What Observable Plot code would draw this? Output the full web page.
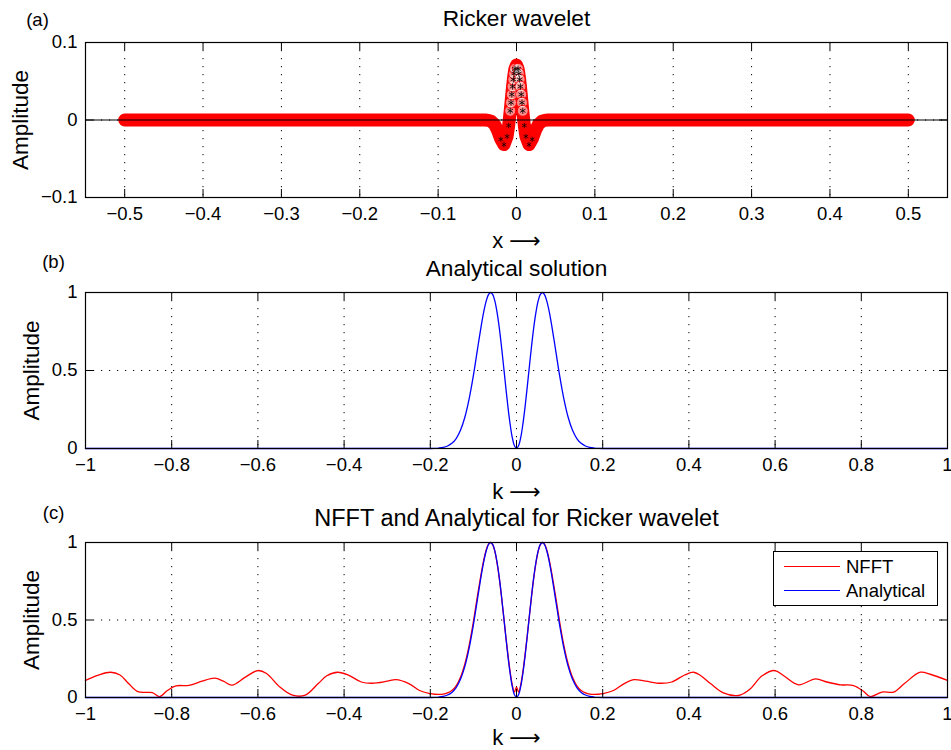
<!DOCTYPE html>
<html>
<head>
<meta charset="utf-8">
<script src="https://cdn.jsdelivr.net/npm/d3@7"></script>
<script src="https://cdn.jsdelivr.net/npm/@observablehq/plot@0.6"></script>
<style>
  body { margin: 0; background: #fff; }
  #wrap { position: relative; width: 951px; height: 750px; background: #fff; font-family: 'Liberation Sans', Arial, Helvetica, sans-serif; }
  #wrap > svg { position: absolute; left: 0; }
  #legend { position: absolute; left: 773px; top: 551px; width: 163px; height: 53px; border: 1px solid #000; background: #fff; }
  .lrow { position: absolute; left: 0; height: 22px; width: 160px; }
  .lline { position: absolute; left: 10px; width: 56px; top: 10px; height: 0; border-top: 1.3px solid; }
  .ltext { position: absolute; left: 72px; top: 0; font-size: 18.5px; line-height: 22px; color: #000; }
</style>
</head>
<body>
<div id="wrap">
  <div id="legend">
    <div class="lrow" style="top:4px"><div class="lline" style="border-color:#ff0000"></div><div class="ltext">NFFT</div></div>
    <div class="lrow" style="top:28px"><div class="lline" style="border-color:#0000ff"></div><div class="ltext">Analytical</div></div>
  </div>
</div>
<script>
// ---------- Data ----------
// (a) Ricker wavelet samples
const waveX = [-0.5, -0.4, -0.3, -0.2, -0.1, -0.05, -0.04, -0.036, -0.032, -0.028, -0.024, -0.02, -0.016, -0.012, -0.01, -0.008, -0.007, -0.006, -0.005, -0.004, -0.003, -0.002, 0,
               0.002, 0.003, 0.004, 0.005, 0.006, 0.007, 0.008, 0.01, 0.012, 0.016, 0.02, 0.024, 0.028, 0.032, 0.036, 0.04, 0.05, 0.1, 0.2, 0.3, 0.4, 0.5];
const waveY = [0, 0, 0, 0, 0, 0, 0, -0.0005, -0.0019, -0.0057, -0.0138, -0.0249, -0.0317, -0.0212, -0.0071, 0.0119, 0.0224, 0.033, 0.0432, 0.0524, 0.060, 0.066, 0.071,
               0.066, 0.060, 0.0524, 0.0432, 0.033, 0.0224, 0.0119, -0.0071, -0.0212, -0.0317, -0.0249, -0.0138, -0.0057, -0.0019, -0.0005, 0, 0, 0, 0, 0, 0, 0];
const waveTicksX = [-0.5, -0.4, -0.3, -0.2, -0.1, 0, 0.1, 0.2, 0.3, 0.4, 0.5];
const waveTicksY = [-0.1, 0, 0.1];

// (b)/(c) analytical spectrum
const anaK = [-1, -0.3, -0.2, -0.19, -0.18, -0.17, -0.16, -0.15, -0.14, -0.13, -0.12, -0.11, -0.1, -0.09, -0.08, -0.075, -0.07, -0.065, -0.06, -0.055, -0.05, -0.045, -0.04, -0.035, -0.03, -0.025, -0.02, -0.015, -0.01, -0.005, 0,
              0.005, 0.01, 0.015, 0.02, 0.025, 0.03, 0.035, 0.04, 0.045, 0.05, 0.055, 0.06, 0.065, 0.07, 0.075, 0.08, 0.09, 0.1, 0.11, 0.12, 0.13, 0.14, 0.15, 0.16, 0.17, 0.18, 0.19, 0.2, 0.3, 1];
const anaA = [0, 0, 0, 0.001, 0.003, 0.007, 0.016, 0.033, 0.064, 0.117, 0.199, 0.317, 0.469, 0.645, 0.817, 0.890, 0.948, 0.987, 1.0, 0.986, 0.943, 0.871, 0.775, 0.658, 0.529, 0.397, 0.27, 0.16, 0.073, 0.019, 0,
              0.019, 0.073, 0.16, 0.27, 0.397, 0.529, 0.658, 0.775, 0.871, 0.943, 0.986, 1.0, 0.987, 0.948, 0.890, 0.817, 0.645, 0.469, 0.317, 0.199, 0.117, 0.064, 0.033, 0.016, 0.007, 0.003, 0.001, 0, 0, 0];

// (c) NFFT result
const nfftK = [-1.0, -0.97, -0.942, -0.92, -0.9, -0.88, -0.86, -0.845, -0.828, -0.81, -0.79, -0.76, -0.73, -0.7, -0.68, -0.66, -0.63, -0.6, -0.58, -0.55, -0.52, -0.49, -0.46, -0.44, -0.415, -0.39, -0.36, -0.335, -0.3, -0.28, -0.25, -0.225,
               -0.2, -0.19, -0.18, -0.17, -0.16, -0.15, -0.14, -0.13, -0.12, -0.11, -0.1, -0.09, -0.08, -0.075, -0.07, -0.065, -0.06, -0.055, -0.05, -0.045, -0.04, -0.035, -0.03, -0.025, -0.02, -0.015, -0.01, -0.005, 0,
               0.005, 0.01, 0.015, 0.02, 0.025, 0.03, 0.035, 0.04, 0.045, 0.05, 0.055, 0.06, 0.065, 0.07, 0.075, 0.08, 0.09, 0.1, 0.11, 0.12, 0.13, 0.14, 0.15, 0.16, 0.17, 0.18, 0.19, 0.2,
               0.225, 0.25, 0.272, 0.3, 0.334, 0.36, 0.39, 0.411, 0.427, 0.45, 0.48, 0.515, 0.54, 0.57, 0.599, 0.62, 0.654, 0.694, 0.72, 0.752, 0.782, 0.805, 0.821, 0.848, 0.875, 0.9, 0.937, 0.96, 1.0];
const nfftA = [0.11, 0.145, 0.163, 0.145, 0.09, 0.04, 0.033, 0.032, 0.006, 0.045, 0.075, 0.078, 0.105, 0.125, 0.105, 0.08, 0.13, 0.174, 0.155, 0.07, 0.015, 0.015, 0.09, 0.14, 0.163, 0.145, 0.1, 0.092, 0.105, 0.115, 0.09, 0.045,
               0.025, 0.021, 0.02, 0.022, 0.03, 0.045, 0.075, 0.13, 0.215, 0.335, 0.49, 0.665, 0.83, 0.9, 0.955, 0.99, 1.0, 0.985, 0.94, 0.865, 0.77, 0.655, 0.53, 0.4, 0.28, 0.17, 0.085, 0.035, 0.066,
               0.035, 0.085, 0.17, 0.28, 0.4, 0.53, 0.655, 0.77, 0.865, 0.94, 0.985, 1.0, 0.99, 0.955, 0.9, 0.83, 0.665, 0.49, 0.335, 0.215, 0.13, 0.075, 0.045, 0.03, 0.022, 0.02, 0.021, 0.025,
               0.045, 0.09, 0.115, 0.105, 0.092, 0.1, 0.145, 0.163, 0.142, 0.09, 0.03, 0.013, 0.05, 0.14, 0.174, 0.14, 0.082, 0.12, 0.1, 0.082, 0.077, 0.04, 0.006, 0.035, 0.035, 0.09, 0.163, 0.15, 0.11];

const kTicksX = [-1, -0.8, -0.6, -0.4, -0.2, 0, 0.2, 0.4, 0.6, 0.8, 1];
const kTicksY = [0, 0.5, 1];

const titles = ["Ricker wavelet", "Analytical solution", "NFFT and Analytical for Ricker wavelet"];
const tags = ["(a)", "(b)", "(c)"];
const xLabels = ["x \u27F6", "k \u27F6", "k \u27F6"];
const yLabel = "Amplitude";
const legendNames = ["NFFT", "Analytical"];

// ---------- Build ----------
const wave = waveX.map((x, i) => ({x, y: waveY[i]}));
const ana = anaK.map((k, i) => ({k, a: anaA[i]}));
const nfft = nfftK.map((k, i) => ({k, a: nfftA[i]}));
const center = wave.filter(d => Math.abs(d.x) <= 0.008 && d.x !== 0);
const lobes = wave.filter(d => Math.abs(d.x) <= 0.02 && Math.abs(d.x) >= 0.01);

const FONT = "'Liberation Sans', Arial, Helvetica, 'DejaVu Sans', sans-serif";
const W = 951, H = 250, ML = 85, MR = 4, MT = 42;
const fmt = d => d === 0 ? "0" : (d < 0 ? "\u2212" : "") + String(+Math.abs(d).toFixed(1));

function panel({xDomain, yDomain, xt, yt, yGrid, data, tagDx, tagDy, ylDx, title, titleSize, tag, xlab, xlDy, mb}) {
  const ph = H - MT - mb, pw = W - ML - MR;
  return Plot.plot({
    width: W, height: H,
    marginLeft: ML, marginRight: MR, marginTop: MT, marginBottom: mb,
    x: {domain: xDomain, axis: null},
    y: {domain: yDomain, axis: null},
    style: {fontFamily: FONT, fontSize: "18.5px", background: "white", overflow: "visible", color: "black"},
    marks: [
      Plot.ruleX(xt, {x: d => d, stroke: "#000", strokeWidth: 1, strokeDasharray: "1.2,6.8"}),
      Plot.ruleY(yGrid, {y: d => d, stroke: "#000", strokeWidth: 1, strokeDasharray: "1.2,6.8"}),
      ...data,
      Plot.frame({stroke: "#000", strokeWidth: 1.2}),
      Plot.tickX(xt, {x: d => d, insetTop: ph - 8, stroke: "#000"}),
      Plot.tickX(xt, {x: d => d, insetBottom: ph - 8, stroke: "#000"}),
      Plot.tickY(yt, {y: d => d, insetRight: pw - 8, stroke: "#000"}),
      Plot.tickY(yt, {y: d => d, insetLeft: pw - 8, stroke: "#000"}),
      Plot.text(xt, {x: d => d, text: fmt, frameAnchor: "bottom", dy: 17, lineAnchor: "middle", textAnchor: "middle", fontSize: 18.5, fill: "#000"}),
      Plot.text(yt, {y: d => d, text: fmt, frameAnchor: "left", dx: -8, lineAnchor: "middle", textAnchor: "end", fontSize: 18.5, fill: "#000"}),
      Plot.text([title], {text: d => d, frameAnchor: "top", dy: -24, lineAnchor: "middle", textAnchor: "middle", fontSize: titleSize, fill: "#000"}),
      Plot.text([tag], {text: d => d, frameAnchor: "top-left", dx: tagDx, dy: tagDy, lineAnchor: "middle", textAnchor: "middle", fontSize: 18.5, fill: "#000"}),
      Plot.text([yLabel], {text: d => d, frameAnchor: "left", dx: ylDx, rotate: -90, lineAnchor: "middle", textAnchor: "middle", fontSize: 22.5, fill: "#000"}),
      Plot.text([xlab], {text: d => d, frameAnchor: "bottom", dy: xlDy, lineAnchor: "middle", textAnchor: "middle", fontSize: 22, fill: "#000"})
    ]
  });
}

const pa = panel({
  xDomain: [-0.55, 0.55], yDomain: [-0.1, 0.1], xt: waveTicksX, yt: waveTicksY, yGrid: [0],
  tagDx: -48, tagDy: -22, ylDx: -65, title: titles[0], titleSize: 22.7, tag: tags[0], xlab: xLabels[0], xlDy: 43, mb: 53,
  data: [
    Plot.line(wave, {x: "x", y: "y", stroke: "#ff0000", strokeWidth: 13}),
    Plot.dot(center, {x: "x", y: "y", r: 5.5, stroke: "#ff0000", fill: "#ffffff", fillOpacity: 0.55, strokeWidth: 1}),
    Plot.dot(center, {x: "x", y: "y", r: 3, symbol: "asterisk", stroke: "#000", strokeWidth: 0.8}),
    Plot.dot(lobes, {x: "x", y: "y", r: 2.5, symbol: "asterisk", stroke: "#000", strokeWidth: 0.7}),
    Plot.ruleY([0], {stroke: "#000", strokeWidth: 1.2})
  ]
});
const pb = panel({
  xDomain: [-1, 1], yDomain: [0, 1], xt: kTicksX, yt: kTicksY, yGrid: [0.5],
  tagDx: -32, tagDy: -30, ylDx: -54, title: titles[1], titleSize: 22.7, tag: tags[1], xlab: xLabels[1], xlDy: 43, mb: 52,
  data: [
    Plot.line(ana, {x: "k", y: "a", stroke: "#0000ff", strokeWidth: 1.3, curve: "catmull-rom"})
  ]
});
const pc = panel({
  xDomain: [-1, 1], yDomain: [0, 1], xt: kTicksX, yt: kTicksY, yGrid: [0.5],
  tagDx: -32, tagDy: -29, ylDx: -54, title: titles[2], titleSize: 23.5, tag: tags[2], xlab: xLabels[2], xlDy: 40, mb: 53,
  data: [
    Plot.line(nfft, {x: "k", y: "a", stroke: "#ff0000", strokeWidth: 1.3, curve: "catmull-rom"}),
    Plot.line(ana, {x: "k", y: "a", stroke: "#0000ff", strokeWidth: 1.3, curve: "catmull-rom"})
  ]
});

const wrap = document.getElementById("wrap");
const legend = document.getElementById("legend");
[pa, pb, pc].forEach((p, i) => {
  p.style.top = (i * 250) + "px";
  wrap.insertBefore(p, legend);
});
document.querySelectorAll(".ltext").forEach((el, i) => el.textContent = legendNames[i]);
</script>
</body>
</html>
